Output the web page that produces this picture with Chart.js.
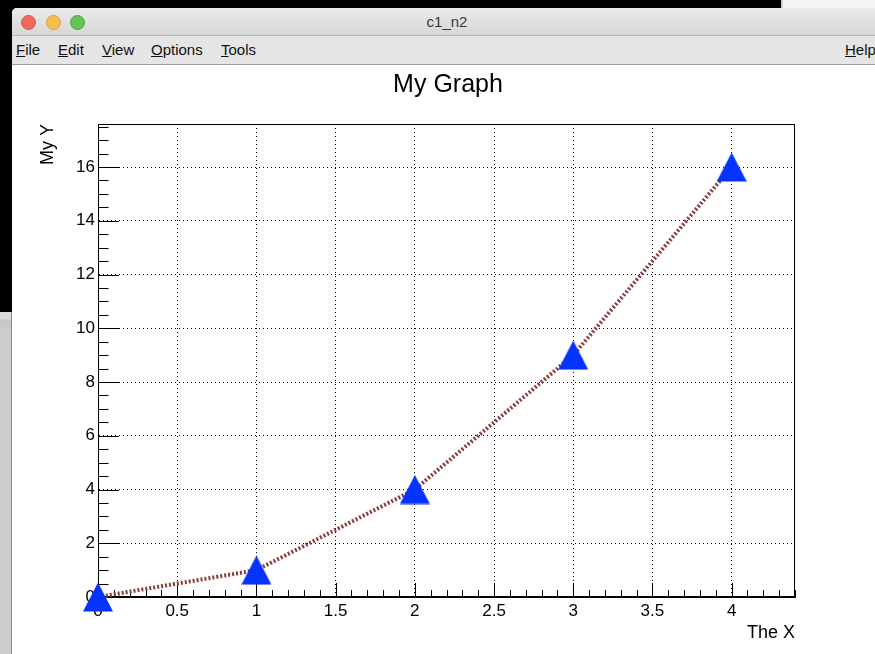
<!DOCTYPE html>
<html>
<head>
<meta charset="utf-8">
<script src="https://cdn.jsdelivr.net/npm/chart.js@4/dist/chart.umd.min.js"></script>
<style>
  html, body { margin: 0; padding: 0; }
  body { width: 875px; height: 654px; background: #000; position: relative; overflow: hidden;
         font-family: 'Liberation Sans', Arial, sans-serif; }
  #behindTop { position: absolute; left: 781px; top: 0; width: 94px; height: 8px; background: #f4f4f4;
               border-left: 2px solid #cfcfcf; }
  #behindLeft { position: absolute; left: 0; top: 312px; width: 11px; height: 342px;
                background: linear-gradient(#dcdcdc 0, #dcdcdc 7px, #c4c4c4 8px, #cdcdcd 20px);
                border-right: 1px solid #8a8a8a; }
  #win { position: absolute; left: 12px; top: 8px; width: 870px; height: 646px; background: #fff;
         border-top-left-radius: 5px; overflow: hidden; }
  #titlebar { position: absolute; left: 0; top: 0; width: 100%; height: 27px;
              background: linear-gradient(#ebebeb, #d6d6d6); border-bottom: 1px solid #b8b8b8; }
  .dot { position: absolute; top: 7px; width: 13px; height: 13px; border-radius: 50%; }
  #wtitle { position: absolute; left: 0; width: 870px; top: 5px; text-align: center; font-size: 15px; color: #3a3a3a; }
  #menubar { position: absolute; left: 0; top: 28px; width: 100%; height: 28px; background: #e5e5e5;
             border-bottom: 1px solid #9c9c9c; font-size: 15px; color: #111; }
  #menubar span { position: absolute; top: 5px; }
  #menubar u { text-decoration: underline; }
  #plot { position: absolute; left: 0; top: 57px; }
</style>
</head>
<body>
<div id="behindTop"></div>
<div id="behindLeft"></div>
<div id="win">
  <div id="titlebar">
    <div class="dot" style="left:9px;background:#ee6a5f;border:0.5px solid #d9544a"></div>
    <div class="dot" style="left:34px;background:#f5be4f;border:0.5px solid #dea236"></div>
    <div class="dot" style="left:58px;background:#62c554;border:0.5px solid #4ca93d"></div>
    <div id="wtitle">c1_n2</div>
  </div>
  <div id="menubar">
    <span style="left:4px"><u>F</u>ile</span>
    <span style="left:46px"><u>E</u>dit</span>
    <span style="left:90px"><u>V</u>iew</span>
    <span style="left:139px"><u>O</u>ptions</span>
    <span style="left:209px"><u>T</u>ools</span>
    <span style="left:833px"><u>H</u>elp</span>
  </div>
  <canvas id="plot" width="863" height="589"></canvas>
</div>
<script>
// graph points
const xValues = [0, 1, 2, 3, 4];
const yValues = [0, 1, 4, 9, 16];

// axis ranges and labelled ticks
const xRange = [0, 4.4];
const yRange = [0, 17.6];
const xTickLabels = [0, 0.5, 1, 1.5, 2, 2.5, 3, 3.5, 4];
const yTickLabels = [0, 2, 4, 6, 8, 10, 12, 14, 16];

Chart.defaults.font.family = "'Liberation Sans', Arial, sans-serif";
Chart.defaults.color = '#000';

// ROOT style filled triangle marker
const marker = document.createElement('canvas');
marker.width = 30;
marker.height = 30;
const mctx = marker.getContext('2d');
mctx.fillStyle = '#0433ff';
mctx.beginPath();
mctx.moveTo(15, 0.5);
mctx.lineTo(30, 29.5);
mctx.lineTo(0, 29.5);
mctx.closePath();
mctx.fill();

// frame + inner tick marks like a ROOT TFrame
const rootFrame = {
  id: 'rootFrame',
  beforeDatasetsDraw(chart) {
    const { ctx, chartArea: a, scales: { x, y } } = chart;
    ctx.save();
    ctx.strokeStyle = '#000';
    ctx.lineWidth = 1;
    ctx.beginPath();
    for (let i = 0; i <= 44; i++) {
      const px = Math.round(x.getPixelForValue(i / 10)) + 0.5;
      const len = i % 5 === 0 ? 14 : 7;
      ctx.moveTo(px, a.bottom);
      ctx.lineTo(px, a.bottom - len);
    }
    for (let i = 0; i <= 35; i++) {
      const py = Math.round(y.getPixelForValue(i / 2)) + 0.5;
      const len = i % 4 === 0 ? 21 : 10.5;
      ctx.moveTo(a.left, py);
      ctx.lineTo(a.left + len, py);
    }
    ctx.stroke();
    ctx.strokeRect(a.left + 0.5, a.top + 0.5, a.right - a.left - 1, a.bottom - a.top - 1);
    ctx.restore();
  }
};

new Chart(document.getElementById('plot'), {
  type: 'scatter',
  data: {
    datasets: [
      {
        data: xValues.map((v, i) => ({ x: v, y: yValues[i] })),
        showLine: true,
        borderColor: '#8b3a3a',
        borderWidth: 4,
        borderDash: [2, 2],
        tension: 0,
        pointStyle: marker,
        pointRadius: 15,
        clip: false,
      },
    ],
  },
  plugins: [rootFrame],
  options: {
    responsive: false,
    animation: false,
    layout: { padding: { top: 0, left: 9, right: 0, bottom: 0 } },
    scales: {
      x: {
        min: xRange[0],
        max: xRange[1],
        afterBuildTicks: (s) => { s.ticks = xTickLabels.map((v) => ({ value: v })); },
        afterFit: (s) => { s.height = 57; },
        ticks: { padding: 4, font: { size: 17 }, callback: (v) => String(v) },
        grid: { color: '#000', lineWidth: 1, drawTicks: false },
        border: { color: '#000', width: 1, dash: [1, 3] },
        title: { display: true, text: 'The X', align: 'end', font: { size: 18 }, padding: { top: 0, bottom: 10 } },
      },
      y: {
        min: yRange[0],
        max: yRange[1],
        afterBuildTicks: (s) => { s.ticks = yTickLabels.map((v) => ({ value: v })); },
        afterFit: (s) => { s.width = 77; },
        ticks: { padding: 3, font: { size: 17 }, callback: (v) => String(v) },
        grid: { color: '#000', lineWidth: 1, drawTicks: false },
        border: { color: '#000', width: 1, dash: [1, 3] },
        title: { display: true, text: 'My Y', align: 'end', font: { size: 18 }, padding: { top: 16, bottom: 0 } },
      },
      // empty right axis, only reserves the pad's right margin
      y2: {
        position: 'right',
        display: true,
        min: yRange[0],
        max: yRange[1],
        afterFit: (s) => { s.width = 80; },
        ticks: { display: false },
        grid: { display: false, drawTicks: false },
        border: { display: false },
      },
    },
    plugins: {
      legend: { display: false },
      tooltip: { enabled: false },
      title: {
        display: true,
        text: 'My Graph',
        color: '#000',
        font: { size: 25, weight: 'normal' },
        padding: { top: 5.2, bottom: 23.8 },
      },
    },
  },
});
</script>
</body>
</html>
